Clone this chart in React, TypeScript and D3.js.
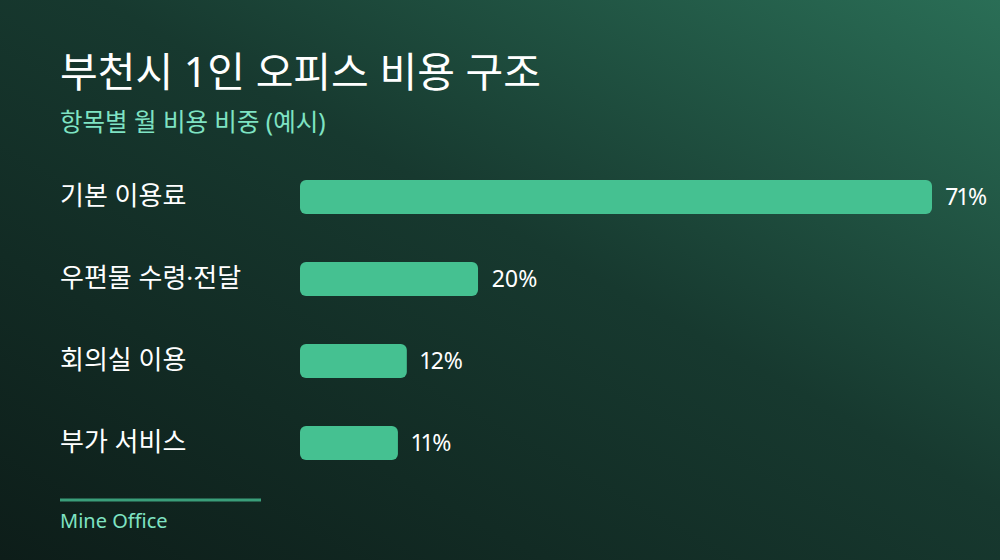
import React from "react";
import * as d3 from "d3";

// chart values
const CATEGORIES = ["기본 이용료", "우편물 수령·전달", "회의실 이용", "부가 서비스"];
const SHARES = [71, 20, 12, 11];

const TITLE = "부천시 1인 오피스 비용 구조";
const SUBTITLE = "항목별 월 비용 비중 (예시)";
const SOURCE = "Mine Office";

const W = 1000;
const H = 560;
const FONT = "'Noto Sans', 'Noto Sans CJK KR', sans-serif";

export default function App() {
  const x = d3.scaleLinear().domain([0, d3.max(SHARES) || 71]).range([300, 932]);
  // step 82px, bar 34px
  const y = d3
    .scaleBand<string>()
    .domain(CATEGORIES)
    .range([180, 460])
    .paddingInner(48 / 82)
    .paddingOuter(0);

  return (
    <svg
      width={W}
      height={H}
      style={{ position: "absolute", left: 0, top: 0, display: "block" }}
      fontFamily={FONT}
    >
      <defs>
        <linearGradient id="bg" x1="1" y1="0" x2="0" y2="1">
          <stop offset="0%" stopColor="#2a6e56" />
          <stop offset="45%" stopColor="#17392f" />
          <stop offset="100%" stopColor="#0d1d19" />
        </linearGradient>
      </defs>
      <rect width={W} height={H} fill="url(#bg)" />

      <text x={60} y={87} fill="#ffffff" fontSize={41} fontWeight={400}>
        {TITLE}
      </text>
      <text x={60} y={131} fill="#7fe3c3" fontSize={24.5}>
        {SUBTITLE}
      </text>

      {CATEGORIES.map((c, i) => {
        const yy = y(c) || 0;
        const bh = y.bandwidth();
        return (
          <g key={c}>
            <text x={60} y={yy + bh / 2} dy="0.3em" fill="#ffffff" fontSize={26}>
              {c}
            </text>
            <rect
              x={x(0)}
              y={yy}
              width={x(SHARES[i]) - x(0)}
              height={bh}
              rx={6}
              fill="#45c191"
            />
            <text
              x={x(SHARES[i]) + 14}
              y={yy + bh / 2}
              dy="0.36em"
              fill="#ffffff"
              fontSize={23}
              style={{ fontVariantNumeric: "proportional-nums" }}
            >
              {SHARES[i]}%
            </text>
          </g>
        );
      })}

      <line x1={60} x2={261} y1={500} y2={500} stroke="#3a9e7a" strokeWidth={3} />
      <text x={60} y={528} fill="#7fe3c3" fontSize={20}>
        {SOURCE}
      </text>
    </svg>
  );
}
